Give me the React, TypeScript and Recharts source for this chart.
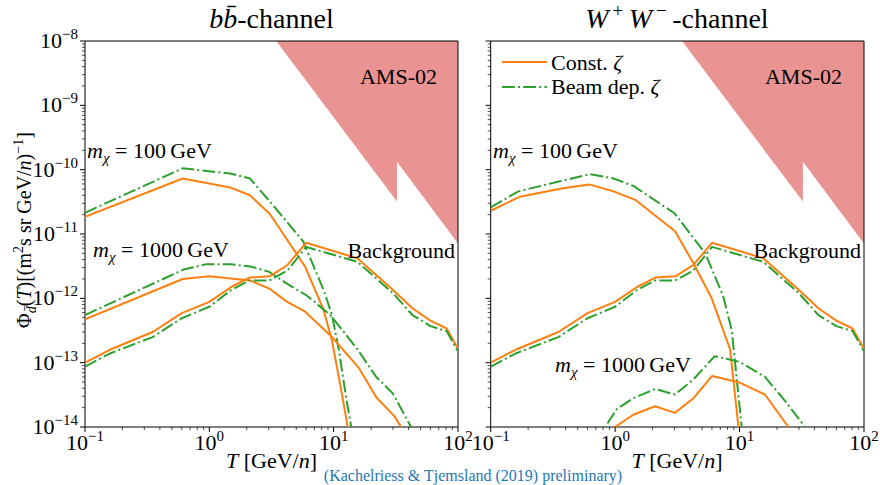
import React from 'react';
import { ComposedChart, Line, Area, XAxis, YAxis, ReferenceArea } from 'recharts';

const FONT = '"Liberation Serif", "Times New Roman", serif';
const ORANGE = '#ff7f0e';
const GREEN = '#2ca02c';
const DASHDOT = '12.8 3.2 2 3.2';

// axis decades (tick labels)
const xDecades = [0.1, 1, 10, 100];
const yDecades = [1e-14, 1e-13, 1e-12, 1e-11, 1e-10, 1e-9, 1e-8];

// AMS-02 excluded region (same in both panels)
const amsT = [3.45, 32.3, 32.3, 100];
const amsFlux = [1e-8, 3.2e-11, 1.33e-10, 7.1e-12];

// background (same in both panels)
const bkgT = [0.1, 0.16, 0.35, 0.6, 1.0, 1.5, 2.1, 3.05, 4.25, 6.0, 15.5, 30, 43, 60, 81, 100];
const bkgConst = [1.0e-13, 1.6e-13, 3.0e-13, 5.9e-13, 8.8e-13, 1.5e-12, 2.1e-12, 2.2e-12, 3.3e-12, 7.3e-12, 4.2e-12, 1.35e-12, 7.0e-13, 4.5e-13, 3.4e-13, 1.65e-13];
const bkgBeam = [8.7e-14, 1.4e-13, 2.5e-13, 4.9e-13, 7.4e-13, 1.35e-12, 1.9e-12, 1.9e-12, 2.7e-12, 6.3e-12, 3.7e-12, 1.2e-12, 5.5e-13, 3.7e-13, 3.1e-13, 1.5e-13];

// b bbar channel, m = 100 GeV
const bb100ConstT = [0.1, 0.61, 1.47, 2.12, 3.07, 5.9, 8.3, 9.7, 11.6, 13.1];
const bb100Const = [1.85e-11, 7.3e-11, 5.3e-11, 4.0e-11, 2.05e-11, 3.1e-12, 6.6e-13, 2.2e-13, 3.4e-14, 9e-15];
const bb100BeamT = [0.1, 0.61, 1.47, 2.12, 3.07, 5.7, 8.3, 9.7, 11.0, 12.7, 14.0];
const bb100Beam = [2.14e-11, 1.05e-10, 8.7e-11, 7.3e-11, 3.2e-11, 7.6e-12, 1.35e-12, 5.5e-13, 1.58e-13, 2.6e-14, 9e-15];

// b bbar channel, m = 1000 GeV
const bb1000ConstT = [0.1, 0.61, 1.0, 2.12, 3.07, 4.2, 5.9, 9.7, 16, 22, 31, 36];
const bb1000Const = [4.7e-13, 2.0e-12, 2.2e-12, 1.9e-12, 1.4e-12, 8.9e-13, 6.2e-13, 2.5e-13, 8.2e-14, 2.9e-14, 1.45e-14, 9e-15];
const bb1000BeamT = [0.1, 0.62, 0.95, 1.47, 2.19, 3.0, 4.5, 6.1, 9.4, 15.4, 22, 30, 42.5, 50];
const bb1000Beam = [5.5e-13, 2.8e-12, 3.4e-12, 3.4e-12, 3.1e-12, 2.6e-12, 1.56e-12, 1.1e-12, 5.5e-13, 1.65e-13, 6e-14, 3.3e-14, 9.5e-15, 5e-15];

// W+W- channel, m = 100 GeV
const ww100ConstT = [0.1, 0.172, 0.37, 0.62, 0.97, 1.45, 3.03, 4.26, 5.97, 8.4, 9.8, 10.3];
const ww100Const = [2.3e-11, 3.8e-11, 5.1e-11, 5.9e-11, 4.6e-11, 3.4e-11, 1.1e-11, 3.5e-12, 1.0e-12, 1.6e-13, 1e-14, 4e-15];
const ww100BeamT = [0.1, 0.167, 0.36, 0.63, 0.97, 1.4, 3.0, 5.3, 7.4, 8.65, 10.4, 10.8];
const ww100Beam = [2.6e-11, 4.6e-11, 6.6e-11, 8.5e-11, 7.3e-11, 5.6e-11, 2.1e-11, 5e-12, 1.07e-12, 3.2e-13, 1e-14, 4e-15];

// W+W- channel, m = 1000 GeV
const ww1000ConstT = [0.8, 1.4, 2.09, 3.03, 4.26, 6.0, 10, 16, 24.7, 30];
const ww1000Const = [7.5e-15, 1.55e-14, 2.1e-14, 1.66e-14, 2.8e-14, 6.2e-14, 4.9e-14, 3.2e-14, 1e-14, 6e-15];
const ww1000BeamT = [0.7, 1.03, 1.4, 2.09, 3.03, 4.26, 6.3, 10, 16, 23, 33.6, 40];
const ww1000Beam = [6e-15, 1.9e-14, 2.8e-14, 3.9e-14, 3.2e-14, 5.5e-14, 1.26e-13, 1.03e-13, 6e-14, 2.6e-14, 1e-14, 6e-15];

const pts = (t: number[], v: number[]) => t.map((x, i) => ({ x, y: v[i] }));

const withMinor = (decades: number[]) => {
  const out: number[] = [];
  decades.forEach((d, i) => {
    out.push(d);
    if (i < decades.length - 1) for (let k = 2; k <= 9; k++) out.push(d * k);
  });
  return out;
};
const xTicks = withMinor(xDecades);
const yTicks = withMinor(yDecades);

const expOf = (v: number) => Math.round(Math.log10(v));
const isMajor = (v: number) => Math.abs(Math.log10(v) - expOf(v)) < 1e-6;
const expText = (e: number) => (e < 0 ? '\u2212' + Math.abs(e) : String(e));

const XTick = (props: any) => {
  const { x, y, payload } = props;
  const v = payload.value;
  const major = isMajor(v);
  return (
    <g>
      <line x1={x} x2={x} y1={y} y2={y + (major ? 5 : 3)} stroke="#000" strokeWidth={major ? 1 : 0.7} />
      {major && (
        <text x={x} y={y + 23} textAnchor="middle" fontFamily={FONT} fontSize={22} fill="#000">
          10<tspan dy={-9} fontSize={15}>{expText(expOf(v))}</tspan>
        </text>
      )}
    </g>
  );
};

const YTick = (props: any) => {
  const { x, y, payload, showLabel } = props;
  const v = payload.value;
  const major = isMajor(v);
  return (
    <g>
      <line x1={x - (major ? 5 : 3)} x2={x} y1={y} y2={y} stroke="#000" strokeWidth={major ? 1 : 0.7} />
      {major && showLabel && (
        <text x={x - 7} y={y + 7} textAnchor="end" fontFamily={FONT} fontSize={22} fill="#000">
          10<tspan dy={-9} fontSize={15}>{expText(expOf(v))}</tspan>
        </text>
      )}
    </g>
  );
};

interface PanelProps {
  left: number;
  width: number;
  margin: { top: number; right: number; bottom: number; left: number };
  yWidth: number;
  showYLabels: boolean;
  curves: { data: { x: number; y: number }[]; beam: boolean }[];
}

const Panel: React.FC<PanelProps> = ({ left, width, margin, yWidth, showYLabels, curves }) => (
  <div style={{ position: 'absolute', left, top: 0 }}>
    <ComposedChart width={width} height={485} margin={margin} style={{ overflow: 'visible' }}>
      <XAxis
        dataKey="x"
        type="number"
        scale="log"
        domain={[0.1, 100]}
        allowDataOverflow
        ticks={xTicks}
        interval={0}
        tick={<XTick />}
        tickLine={false}
        axisLine={false}
        tickSize={0}
        tickMargin={0}
        height={30}
      />
      <YAxis
        type="number"
        scale="log"
        domain={[1e-14, 1e-8]}
        allowDataOverflow
        ticks={yTicks}
        interval={0}
        tick={<YTick showLabel={showYLabels} />}
        tickLine={false}
        axisLine={false}
        tickSize={0}
        tickMargin={0}
        width={yWidth}
      />
      <Area
        data={pts(amsT, amsFlux)}
        dataKey="y"
        type="linear"
        baseValue="dataMax"
        fill="#d62728"
        fillOpacity={0.5}
        stroke="none"
        isAnimationActive={false}
      />
      {curves.map((c, i) => (
        <Line
          key={i}
          data={c.data}
          dataKey="y"
          type="linear"
          stroke={c.beam ? GREEN : ORANGE}
          strokeWidth={2}
          strokeDasharray={c.beam ? DASHDOT : undefined}
          strokeLinejoin="round"
          dot={false}
          activeDot={false}
          isAnimationActive={false}
        />
      ))}
      <ReferenceArea x1={0.1} x2={100} y1={1e-14} y2={1e-8} fill="none" fillOpacity={0} stroke="#000" strokeWidth={1} ifOverflow="visible" />
    </ComposedChart>
  </div>
);

const MassLabel: React.FC<{ x: number; y: number; m: string }> = ({ x, y, m }) => (
  <text x={x} y={y} fontFamily={FONT} fontSize={22} fill="#000">
    <tspan fontStyle="italic">m</tspan>
    <tspan dy={5} fontSize={15} fontStyle="italic">χ</tspan>
    <tspan dy={-5}>{` = ${m}\u2009GeV`}</tspan>
  </text>
);

const App: React.FC = () => {
  const bbCurves = [
    { data: pts(bb100ConstT, bb100Const), beam: false },
    { data: pts(bb100BeamT, bb100Beam), beam: true },
    { data: pts(bb1000ConstT, bb1000Const), beam: false },
    { data: pts(bb1000BeamT, bb1000Beam), beam: true },
    { data: pts(bkgT, bkgConst), beam: false },
    { data: pts(bkgT, bkgBeam), beam: true },
  ];
  const wwCurves = [
    { data: pts(ww100ConstT, ww100Const), beam: false },
    { data: pts(ww100BeamT, ww100Beam), beam: true },
    { data: pts(ww1000ConstT, ww1000Const), beam: false },
    { data: pts(ww1000BeamT, ww1000Beam), beam: true },
    { data: pts(bkgT, bkgConst), beam: false },
    { data: pts(bkgT, bkgBeam), beam: true },
  ];

  return (
    <div style={{ position: 'absolute', left: 0, top: 0, width: 880, height: 485, background: '#fff' }}>
      <Panel left={0} width={495} margin={{ top: 41, right: 37, bottom: 28, left: 25 }} yWidth={60} showYLabels curves={bbCurves} />
      <Panel left={430} width={450} margin={{ top: 41, right: 16, bottom: 28, left: 20.7 }} yWidth={40} showYLabels={false} curves={wwCurves} />

      <svg width={880} height={485} style={{ position: 'absolute', left: 0, top: 0, pointerEvents: 'none' }}>
        {/* titles */}
        <text x={271.5} y={28} textAnchor="middle" fontFamily={FONT} fontSize={28} fill="#000">
          <tspan fontStyle="italic">b</tspan>
          <tspan fontStyle="italic">{'b\u0304'}</tspan>
          <tspan>-channel</tspan>
        </text>
        <text x={677} y={28} textAnchor="middle" fontFamily={FONT} fontSize={28} fill="#000">
          <tspan fontStyle="italic">W</tspan>
          <tspan dy={-11} fontSize={19}>{'\u2009+'}</tspan>
          <tspan dy={11} fontStyle="italic">{'\u2009W'}</tspan>
          <tspan dy={-11} fontSize={19}>{'\u2009\u2212'}</tspan>
          <tspan dy={11}>{'\u2009-channel'}</tspan>
        </text>

        {/* y label */}
        <text transform="translate(31,230) rotate(-90)" textAnchor="middle" fontFamily={FONT} fontSize={20} fill="#000">
          Φ<tspan dy={5} fontSize={14} fontStyle="italic">{'d\u0304'}</tspan>
          <tspan dy={-5}>(</tspan>
          <tspan fontStyle="italic">T</tspan>
          <tspan>)[(m</tspan>
          <tspan dy={-8} fontSize={14}>2</tspan>
          <tspan dy={8}>s sr GeV/</tspan>
          <tspan fontStyle="italic">n</tspan>
          <tspan>)</tspan>
          <tspan dy={-8} fontSize={14}>{'\u22121'}</tspan>
          <tspan dy={8}>]</tspan>
        </text>

        {/* x labels */}
        {[271.5, 677].map((cx) => (
          <text key={cx} x={cx} y={468} textAnchor="middle" fontFamily={FONT} fontSize={22} fill="#000">
            <tspan fontStyle="italic">T</tspan>
            <tspan> [GeV/</tspan>
            <tspan fontStyle="italic">n</tspan>
            <tspan>]</tspan>
          </text>
        ))}

        {/* annotations */}
        <text x={437} y={84} textAnchor="end" fontFamily={FONT} fontSize={22} fill="#000">AMS-02</text>
        <text x={842} y={84} textAnchor="end" fontFamily={FONT} fontSize={22} fill="#000">AMS-02</text>
        <text x={455} y={258} textAnchor="end" fontFamily={FONT} fontSize={22} fill="#000">Background</text>
        <text x={861} y={258} textAnchor="end" fontFamily={FONT} fontSize={22} fill="#000">Background</text>
        <MassLabel x={87} y={158} m="100" />
        <MassLabel x={93} y={257} m="1000" />
        <MassLabel x={493} y={158} m="100" />
        <MassLabel x={555} y={372} m="1000" />

        {/* legend */}
        <line x1={502} x2={547} y1={62} y2={62} stroke={ORANGE} strokeWidth={2} />
        <text x={551} y={70} fontFamily={FONT} fontSize={22} fill="#000">
          Const. <tspan fontStyle="italic">ζ</tspan>
        </text>
        <line x1={502} x2={547} y1={87} y2={87} stroke={GREEN} strokeWidth={2} strokeDasharray={DASHDOT} />
        <text x={551} y={94} fontFamily={FONT} fontSize={22} fill="#000">
          Beam dep. <tspan fontStyle="italic">ζ</tspan>
        </text>

        <text x={473} y={481} textAnchor="middle" fontFamily={FONT} fontSize={16} fill="#1f77b4">
          (Kachelriess &amp; Tjemsland (2019) preliminary)
        </text>
      </svg>
    </div>
  );
};

export default App;
